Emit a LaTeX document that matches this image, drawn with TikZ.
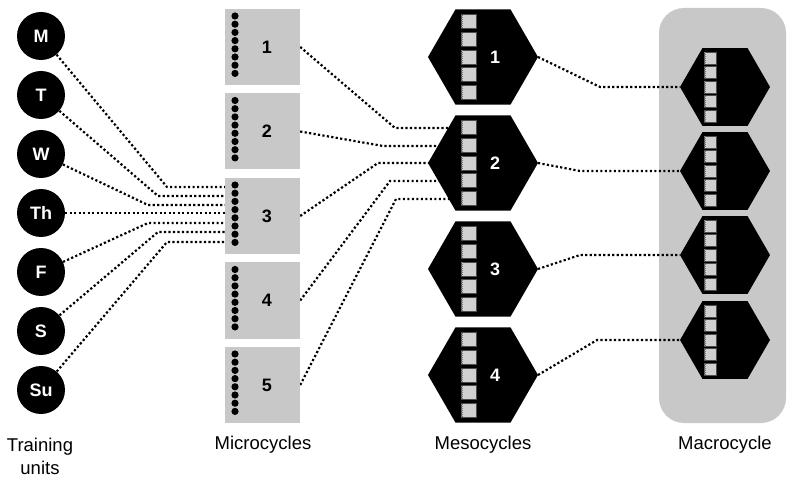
\documentclass[tikz,border=0pt]{standalone}
\usepackage{fontspec}
\setmainfont{Liberation Sans}
\usetikzlibrary{calc,shapes.geometric}
\pgfdeclarelayer{bg}
\pgfsetlayers{bg,main}
\definecolor{boxgray}{RGB}{200,200,200}
\definecolor{sqgray}{RGB}{208,208,208}
\tikzset{lnk/.style={line width=2.2pt, dash pattern=on 2.2pt off 2.3pt},
  day/.style={circle, fill=black, minimum size=48pt, inner sep=0pt, text=white, font=\bfseries\fontsize{18}{18}\selectfont},
  mic/.style={fill=boxgray, minimum width=75pt, minimum height=76pt, inner sep=0pt},
  mes/.style={regular polygon, regular polygon sides=6, fill=black, minimum size=110pt, inner sep=0pt, outer sep=0pt},
  mac/.style={mes, minimum size=90pt},
  sq/.style={fill=sqgray, draw=black!70, line width=.5pt},
  rul/.style={black!55, line width=2pt, dash pattern=on .6pt off 1.4pt},
  num/.style={font=\bfseries\fontsize{18}{18}\selectfont},
  capt/.style={font=\fontsize{18.5}{23}\selectfont, align=center}}

\begin{document}
\begin{tikzpicture}[x=1pt,y=-1pt]
  \useasboundingbox (0,0) rectangle (787,478);
  % training units
  \foreach \d/\y in {M/36,T/95,W/154,Th/213,F/272,S/331,Su/390}
    \node[day] (t\d) at (41,\y) {\d};
  % microcycles, 8 dots each
  \foreach \i/\y in {1/47,2/131.5,3/216,4/300.5,5/385}{
    \node[mic] (b\i) at (262.5,\y) {};
    \node[num] (nb\i) at ($(b\i)+(4.5,0)$) {\i};
    \foreach \k in {0,...,7}
      \fill ($(b\i)+(-27.5,{-31+\k*8.2})$) circle (3.6pt);}
  % mesocycles
  \foreach \i/\y in {1/57,2/163,3/269,4/375}{
    \node[mes] (m\i) at (483,\y) {};
    \node[num, text=white] (nm\i) at ($(m\i)+(12,0)$) {\i};
    \foreach \k in {-2,...,2}{
      \draw[sq] ($(m\i)+(-22,{\k*17.7-7})$) rectangle ++(15,14);
      \draw[rul] ($(m\i)+(-21,{\k*17.7-6.5})$) -- ++(0,13);}}
  % macrocycle
  \begin{pgfonlayer}{bg}
    \fill[boxgray, rounded corners=25pt] (659,8) rectangle (786,423);
  \end{pgfonlayer}
  \foreach \i/\y in {1/87,2/171,3/255,4/340}{
    \node[mac] (M\i) at (725,\y) {};
    \foreach \k in {-2,...,2}{
      \draw[sq] ($(M\i)+(-21,{\k*14.6-6})$) rectangle ++(12,12);
      \draw[rul] ($(M\i)+(-20,{\k*14.6-5.5})$) -- ++(0,11);}}
  % connectors
  \begin{pgfonlayer}{bg}
    \foreach \d/\x/\y in {M/167/187,T/158/196,W/148/205,F/148/223,S/158/232,Su/167/242}
      \draw[lnk] (t\d) -- (\x,\y) -- (b3.west |- \x,\y);
    \draw[lnk] (tTh) -- (b3.west |- tTh);
    \foreach \i/\x/\y in {1/395/128,2/383/146,3/378/163,4/390/181,5/396/199}
      \draw[lnk] (b\i.east) -- (\x,\y) -- (m2.center |- \x,\y);
  \end{pgfonlayer}
  \foreach \i/\x/\y in {1/600/87,2/580/171,3/580/255,4/597/340}
    \draw[lnk] (m\i.east) -- (\x,\y) -- (M\i.west);
  % captions
  \node[capt] (ctu) at (40,456) {Training\\units};
  \node[capt] (cmi) at (263,445) {Microcycles};
  \node[capt] (cme) at (483,445) {Mesocycles};
  \node[capt] (cma) at (725,445) {Macrocycle};
\end{tikzpicture}
\end{document}
